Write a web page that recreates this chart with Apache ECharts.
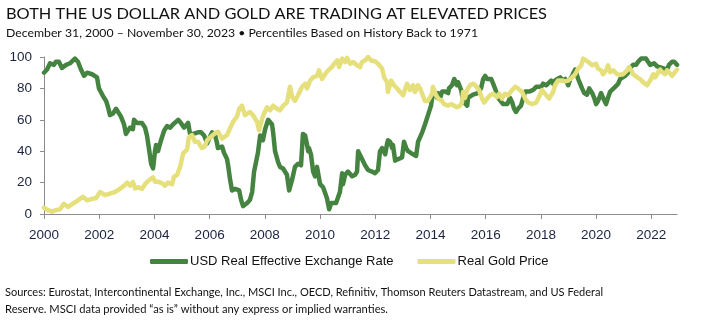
<!DOCTYPE html>
<html><head><meta charset="utf-8">
<script src="https://cdn.jsdelivr.net/npm/echarts@6/dist/echarts.min.js"></script>
<style>html,body{margin:0;padding:0;background:#fff}#c{width:717px;height:330px}</style>
</head><body><div id="c"></div>
<script>
const xTicks = [2000,2002,2004,2006,2008,2010,2012,2014,2016,2018,2020,2022];
const yTicks = [0,20,40,60,80,100];
const usdYears = [2000.00,2000.11,2000.22,2000.36,2000.43,2000.54,2000.65,2000.80,2000.94,2001.12,2001.23,2001.34,2001.45,2001.56,2001.74,2001.92,2001.99,2002.14,2002.25,2002.32,2002.39,2002.50,2002.61,2002.68,2002.79,2002.90,2002.97,2003.04,2003.12,2003.22,2003.26,2003.37,2003.55,2003.66,2003.73,2003.80,2003.88,2003.95,2004.02,2004.06,2004.13,2004.24,2004.35,2004.46,2004.57,2004.67,2004.86,2004.96,2005.07,2005.22,2005.29,2005.40,2005.58,2005.69,2005.80,2005.91,2006.01,2006.09,2006.20,2006.27,2006.30,2006.45,2006.52,2006.63,2006.67,2006.74,2006.81,2006.92,2007.07,2007.14,2007.21,2007.36,2007.46,2007.54,2007.61,2007.75,2007.83,2007.90,2007.93,2008.01,2008.12,2008.26,2008.30,2008.37,2008.44,2008.48,2008.55,2008.66,2008.80,2008.88,2008.99,2009.09,2009.20,2009.31,2009.38,2009.46,2009.53,2009.57,2009.60,2009.67,2009.75,2009.82,2009.89,2009.93,2010.00,2010.11,2010.18,2010.25,2010.33,2010.40,2010.47,2010.58,2010.65,2010.72,2010.80,2010.83,2010.91,2010.98,2011.01,2011.16,2011.27,2011.34,2011.38,2011.45,2011.52,2011.56,2011.63,2011.74,2011.88,2011.99,2012.10,2012.17,2012.25,2012.36,2012.43,2012.46,2012.54,2012.61,2012.64,2012.72,2012.83,2012.97,2013.04,2013.12,2013.19,2013.26,2013.37,2013.48,2013.55,2013.62,2013.70,2013.80,2013.91,2014.02,2014.06,2014.17,2014.24,2014.28,2014.35,2014.42,2014.53,2014.64,2014.67,2014.78,2014.86,2014.96,2015.00,2015.11,2015.18,2015.25,2015.33,2015.36,2015.43,2015.54,2015.72,2015.83,2015.91,2015.98,2016.05,2016.20,2016.27,2016.38,2016.45,2016.52,2016.63,2016.70,2016.78,2016.88,2016.96,2017.03,2017.10,2017.17,2017.28,2017.36,2017.43,2017.50,2017.57,2017.72,2017.83,2017.90,2018.01,2018.08,2018.19,2018.26,2018.37,2018.44,2018.51,2018.59,2018.70,2018.80,2018.88,2018.99,2019.06,2019.13,2019.24,2019.35,2019.42,2019.49,2019.57,2019.67,2019.75,2019.86,2019.93,2020.00,2020.07,2020.18,2020.25,2020.36,2020.43,2020.51,2020.58,2020.69,2020.80,2020.87,2020.94,2021.05,2021.16,2021.23,2021.34,2021.45,2021.52,2021.63,2021.70,2021.81,2021.88,2021.96,2022.03,2022.10,2022.21,2022.28,2022.39,2022.46,2022.57,2022.64,2022.75,2022.83,2022.93];
const usdValues = [90,92,96,95,97,97,93,95,96,99,97,92,88,90,89,87,80,75,72,68,63,64,67,68,62,57,51,53,55,54,60,58,58,55,50,42,32,29,40,44,40,47,53,56,55,57,60,58,55,58,51,51,52,52,50,45,49,52,50,45,42,43,39,35,31,22,15,16,15,9,5,7,9,14,27,39,50,51,47,54,60,57,52,40,41,33,30,29,25,15,22,30,32,31,51,50,44,40,42,38,27,24,30,29,19,17,16,10,3,7,6,7,6,14,26,19,25,24,27,24,25,27,40,41,35,36,31,28,27,26,28,40,42,38,45,47,46,42,44,34,35,36,46,42,40,40,38,37,46,47,52,57,63,69,74,77,74,77,74,78,78,77,80,82,86,82,84,79,72,72,69,74,75,76,77,80,86,88,86,86,83,78,74,74,70,71,70,74,71,67,65,67,69,74,78,77,78,79,81,82,81,83,82,83,85,83,85,86,87,85,86,82,86,88,92,86,83,80,77,76,80,77,74,70,72,77,74,70,74,78,79,81,83,86,87,88,90,93,95,95,97,99,100,99,97,95,94,96,94,95,93,94,92,95,97,97,95];
const goldYears = [2000.00,2000.14,2000.29,2000.40,2000.58,2000.72,2000.87,2001.05,2001.23,2001.41,2001.56,2001.74,2001.88,2002.03,2002.21,2002.39,2002.57,2002.75,2002.93,2003.01,2003.12,2003.22,2003.30,2003.41,2003.55,2003.66,2003.77,2003.95,2004.02,2004.13,2004.28,2004.38,2004.49,2004.64,2004.71,2004.82,2004.93,2005.04,2005.11,2005.18,2005.25,2005.36,2005.47,2005.58,2005.72,2005.83,2005.91,2005.98,2006.12,2006.20,2006.30,2006.45,2006.52,2006.63,2006.74,2006.85,2006.99,2007.07,2007.17,2007.28,2007.46,2007.57,2007.72,2007.79,2007.90,2007.97,2008.08,2008.19,2008.30,2008.44,2008.55,2008.66,2008.80,2008.91,2008.99,2009.09,2009.20,2009.35,2009.46,2009.53,2009.64,2009.75,2009.89,2009.96,2010.07,2010.18,2010.29,2010.43,2010.51,2010.62,2010.69,2010.80,2010.91,2010.98,2011.09,2011.20,2011.34,2011.45,2011.52,2011.63,2011.74,2011.85,2011.99,2012.10,2012.25,2012.32,2012.43,2012.46,2012.57,2012.68,2012.79,2012.90,2013.01,2013.15,2013.26,2013.37,2013.44,2013.55,2013.62,2013.70,2013.80,2013.91,2014.06,2014.09,2014.20,2014.28,2014.42,2014.49,2014.64,2014.75,2014.86,2014.96,2015.07,2015.14,2015.18,2015.25,2015.33,2015.43,2015.54,2015.62,2015.69,2015.76,2015.87,2015.94,2016.05,2016.16,2016.27,2016.41,2016.49,2016.59,2016.70,2016.81,2016.96,2017.07,2017.17,2017.32,2017.43,2017.54,2017.68,2017.83,2017.93,2018.04,2018.15,2018.30,2018.44,2018.51,2018.62,2018.77,2018.88,2018.99,2019.13,2019.24,2019.35,2019.46,2019.53,2019.64,2019.75,2019.86,2020.00,2020.07,2020.18,2020.25,2020.36,2020.43,2020.51,2020.62,2020.76,2020.87,2020.98,2021.12,2021.20,2021.27,2021.34,2021.49,2021.59,2021.70,2021.85,2021.92,2021.99,2022.07,2022.14,2022.25,2022.32,2022.39,2022.50,2022.57,2022.64,2022.75,2022.79,2022.86,2022.93];
const goldValues = [4,2.5,1.5,2.3,3,6.5,4.5,6.6,8.7,11,8.7,9.7,10,14,12,13,14,16,18.5,20,18,20.4,16.3,17,16,19,21,23.4,20.6,20.6,19.5,18,20,19,23.8,24.8,30,38.6,39.7,41,49,50.3,46,46,42,43.3,47,48,50.3,51.4,52.4,48,47,50.3,54.6,58.8,62,67,69,63,65,63,58.6,53.3,60.7,64,68,66,69,67,66,69,71,81,74.5,72,75.6,81,83,80,85,87,88,91.5,86,89,91.5,93.6,95.7,97.8,93.6,99,96.8,99.4,95.7,96.8,94.7,93.6,96.8,97.8,100,97.8,97.3,95.7,92.6,87,84,77.7,85,82,80,77.7,75.6,83,79,82,77.7,82,80,76.6,72,72,76.6,81,75.6,73.5,72,70,69,70,69,68,69,71,77.7,74,79,82,83,82,81,79,73.5,71,73.5,75.6,76.6,74.5,76.6,73.5,76.6,75.6,79,81,80,77.7,73.5,71,70,71,74.5,79,76.6,73.5,77.7,82,85,85,84.5,85,87,89,92.6,94.7,99,97.8,96.4,94.7,95.7,92.6,91.5,89,91.5,94.7,90.4,91.5,89,88.7,89,91.5,93.6,91.5,89,87,86,84,82,84,86,89,87,90.4,92,90.4,89,91.5,90.4,88,87,90.4,92];

const pairs = (xs, ys) => xs.map((x, i) => [x, ys[i]]);
const labelColor = '#1c2340';
const textFont = 'Lato';
const axisFont = '"Liberation Sans", Arial, sans-serif';
const usdColor = '#458440';
const goldColor = '#e6e07c';

const measureCtx = document.createElement('canvas').getContext('2d');
function txt(x, y, text, size, targetWidth, color) {
  measureCtx.font = size + 'px ' + textFont;
  const w = measureCtx.measureText(text).width;
  return {type: 'text', x: x, y: y, scaleX: targetWidth / w, silent: true,
    style: {text: text, fontFamily: textFont, fontSize: size, fill: color || '#111', textVerticalAlign: 'top'}};
}

const chart = echarts.init(document.getElementById('c'), null, {renderer: 'canvas'});
chart.setOption({
  animation: false,
  backgroundColor: '#fff',
  grid: {left: 44, right: 40, top: 57, bottom: 116},
  legend: {
    left: 145, top: 250, itemWidth: 38, itemHeight: 5, itemGap: 24, icon: 'roundRect',
    textStyle: {fontFamily: axisFont, fontSize: 13, color: '#111', padding: [0,0,0,-3]},
    data: ['USD Real Effective Exchange Rate', 'Real Gold Price']
  },
  xAxis: {
    type: 'value', min: 2000, max: 2022.93,
    axisLine: {show: true, lineStyle: {color: '#8c8c8c', width: 1}},
    axisTick: {show: true, length: 5, inside: false, customValues: xTicks, lineStyle: {color: '#8c8c8c'}},
    axisLabel: {customValues: xTicks, formatter: v => String(v), color: labelColor, fontFamily: axisFont, fontSize: 13.5, margin: 14},
    splitLine: {show: false}
  },
  yAxis: {
    type: 'value', min: 0, max: 100, interval: 20,
    axisLine: {show: true, lineStyle: {color: '#8c8c8c', width: 1}},
    axisTick: {show: true, length: 4, lineStyle: {color: '#8c8c8c'}},
    axisLabel: {color: labelColor, fontFamily: axisFont, fontSize: 13.5, margin: 12},
    splitLine: {show: false}
  },
  series: [
    {name: 'USD Real Effective Exchange Rate', type: 'line', data: pairs(usdYears, usdValues), showSymbol: false,
     lineStyle: {color: usdColor, width: 4.5, cap: 'round', join: 'round'}, itemStyle: {color: usdColor}, z: 2},
    {name: 'Real Gold Price', type: 'line', data: pairs(goldYears, goldValues), showSymbol: false,
     lineStyle: {color: goldColor, width: 4.5, cap: 'round', join: 'round'}, itemStyle: {color: goldColor}, z: 3}
  ],
  graphic: [
    txt(6, 7, 'BOTH THE US DOLLAR AND GOLD ARE TRADING AT ELEVATED PRICES', 15, 541),
    txt(6, 27, 'December 31, 2000 – November 30, 2023 • Percentiles Based on History Back to 1971', 12, 472),
    txt(5, 286, 'Sources: Eurostat, Intercontinental Exchange, Inc., MSCI Inc., OECD, Refinitiv, Thomson Reuters Datastream, and US Federal', 11.5, 598),
    txt(5, 303, 'Reserve. MSCI data provided “as is” without any express or implied warranties.', 11.5, 383)
  ]
});
</script></body></html>
